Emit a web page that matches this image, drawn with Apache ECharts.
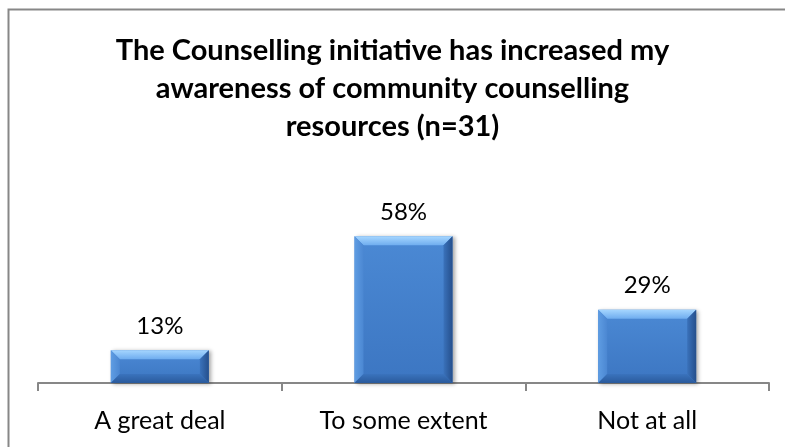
<!DOCTYPE html>
<html>
<head>
<meta charset="utf-8">
<script src="https://cdn.jsdelivr.net/npm/echarts@6/dist/echarts.min.js"></script>
<style>
  html, body { margin: 0; padding: 0; background: #ffffff; }
  #chart { width: 785px; height: 447px; }
</style>
</head>
<body>
<div id="chart"></div>
<script>
// Survey responses (percent of respondents)
const categories = ['A great deal', 'To some extent', 'Not at all'];
const percentages = [13, 58, 29];
const titleText = 'The Counselling initiative has increased my\nawareness of community counselling\nresources (n=31)';

const FONT = 'Lato, "Liberation Sans", sans-serif';
const BAR_W = 98;
const BEVEL = 9;

const chart = echarts.init(document.getElementById('chart'), null, { renderer: 'canvas' });

// Bevel overlay drawn on top of each bar, positioned via the axis scales
function renderBevel(params, api) {
  const idx = api.value(0);
  const val = api.value(1);
  const top = api.coord([idx, val]);
  const base = api.coord([idx, 0]);
  const x = top[0] - BAR_W / 2;
  const y = top[1];
  const w = BAR_W;
  const h = base[1] - top[1];
  const b = Math.min(BEVEL, h / 2);
  const grad = (c1, c2, x2, y2) => new echarts.graphic.LinearGradient(0, 0, x2, y2, [
    { offset: 0, color: c1 }, { offset: 1, color: c2 }
  ]);
  return {
    type: 'group',
    children: [
      { type: 'polygon', shape: { points: [[x, y], [x + w, y], [x + w - b, y + b], [x + b, y + b]] },
        style: { fill: grad('#a6d6ff', '#6fadef', 0, 1) } },
      { type: 'polygon', shape: { points: [[x, y], [x + b, y + b], [x + b, y + h - b], [x, y + h]] },
        style: { fill: grad('#5f9de3', '#4b87d2', 1, 0) } },
      { type: 'polygon', shape: { points: [[x + w, y], [x + w, y + h], [x + w - b, y + h - b], [x + w - b, y + b]] },
        style: { fill: grad('#3a72bb', '#254f8c', 1, 0) } },
      { type: 'polygon', shape: { points: [[x, y + h], [x + b, y + h - b], [x + w - b, y + h - b], [x + w, y + h]] },
        style: { fill: grad('#3a73bd', '#2a5a9c', 0, 1) } }
    ]
  };
}

chart.setOption({
  animation: false,
  backgroundColor: '#ffffff',
  title: {
    text: titleText,
    left: 'center',
    top: 32,
    padding: 0,
    textStyle: {
      fontFamily: FONT,
      fontSize: 29,
      fontWeight: 'bold',
      color: '#000000',
      lineHeight: 38
    }
  },
  graphic: [{
    type: 'rect',
    shape: { x: 8.5, y: 9.5, width: 900, height: 600 },
    style: { fill: null, stroke: '#878787', lineWidth: 2 },
    silent: true
  }],
  grid: { left: 38, right: 16, top: 206, bottom: 64 },
  xAxis: {
    type: 'category',
    data: categories,
    boundaryGap: true,
    axisLine: { show: true, lineStyle: { color: '#878787', width: 2 } },
    axisTick: { show: true, alignWithLabel: false, interval: 0, length: 8, lineStyle: { color: '#878787', width: 2 } },
    axisLabel: { fontFamily: FONT, fontSize: 25, color: '#000000', margin: 25 }
  },
  yAxis: {
    type: 'value',
    min: 0,
    max: 70,
    interval: 10,
    show: false,
    splitLine: { show: false }
  },
  series: [
    {
      type: 'bar',
      data: percentages,
      barWidth: BAR_W,
      itemStyle: {
        color: new echarts.graphic.LinearGradient(0, 0, 0, 1, [
          { offset: 0, color: '#4b89d4' },
          { offset: 1, color: '#3c76c2' }
        ]),
        shadowColor: 'rgba(0,0,0,0.35)',
        shadowBlur: 4,
        shadowOffsetX: 2,
        shadowOffsetY: 1
      },
      label: {
        show: true,
        position: 'top',
        distance: 12,
        formatter: '{c}%',
        fontFamily: FONT,
        fontSize: 24,
        color: '#000000'
      }
    },
    {
      type: 'custom',
      renderItem: renderBevel,
      data: percentages.map((v, i) => [i, v]),
      encode: { x: 0, y: 1 },
      silent: true,
      z: 3
    }
  ]
});
</script>
</body>
</html>
